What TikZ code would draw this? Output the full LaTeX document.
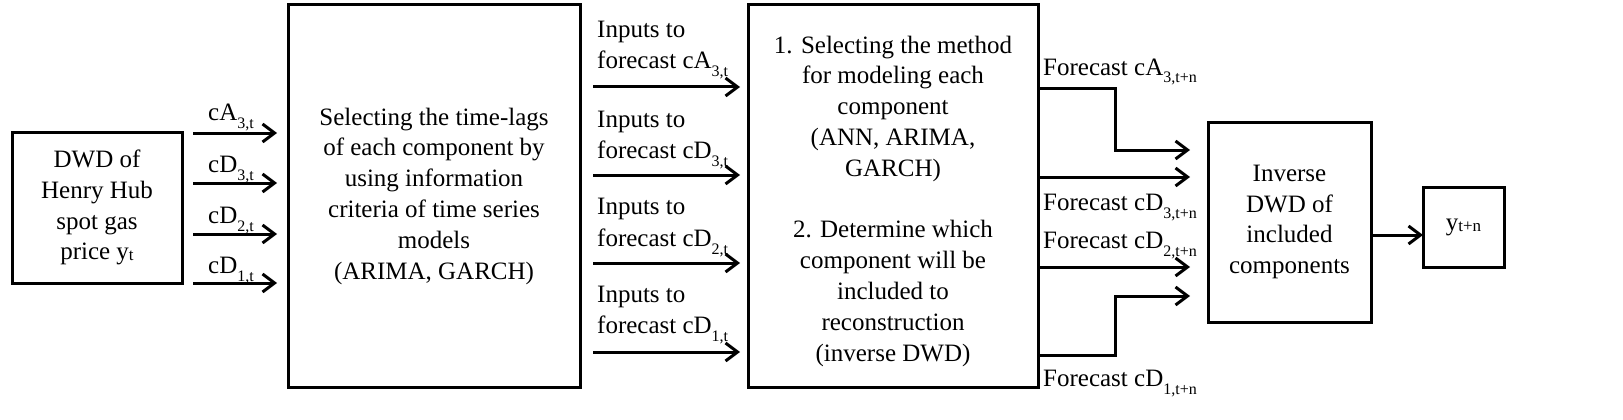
\documentclass[tikz,border=0pt]{standalone}
\usepackage{fontspec}
\setmainfont{Liberation Serif}
\usetikzlibrary{arrows.meta}
\newcommand\sbs[1]{\raisebox{-8pt}{\fontsize{16}{16}\selectfont #1}}
\newcommand\sml[1]{\raisebox{-1pt}{\fontsize{17}{17}\selectfont #1}}
\begin{document}
\begin{tikzpicture}[x=1pt,y=-1pt,
  font=\fontsize{25}{30.8}\selectfont,
  box/.style={draw, line width=3pt, align=center, inner sep=0pt, outer sep=0pt},
  arr/.style={line width=3pt, -{Straight Barb[length=12pt,width=18pt]}},
  lbl/.style={inner sep=0pt, anchor=base west}]
\useasboundingbox (0,0) rectangle (1623,420);

% boxes
\node[box, minimum width=170pt, minimum height=151pt] (b1) at (97,207.5)
  {DWD of\\Henry Hub\\spot gas\\price y\sml{t}};
\node[box, minimum width=292pt, minimum height=382pt] (b2) at (434,196)
  {Selecting the time-lags\\of each component by\\using information\\criteria of time series\\models\\(ARIMA, GARCH)};
\node[box, minimum width=290pt, minimum height=382pt] (b3) at (893,196) {};
\node[align=center, inner sep=0pt] (b3t) at (893,201)
  {1. Selecting the method\\for modeling each\\component\\(ANN, ARIMA,\\GARCH)\\[30.8pt]2. Determine which\\component will be\\included to\\reconstruction\\(inverse DWD)};
\node[box, minimum width=163pt, minimum height=200pt] (b4) at (1289.5,222)
  {Inverse\\DWD of\\included\\components};
\node[box, minimum width=81pt, minimum height=80pt] (b5) at (1463.5,227)
  {y\sml{t+n}};

% left arrows
\coordinate (l1) at (0,133);
\coordinate (l2) at (0,183);
\coordinate (l3) at (0,234);
\coordinate (l4) at (0,283);
\foreach \c in {l1,l2,l3,l4}
  \draw[arr, shorten <=11pt, shorten >=11pt] (b1.east |- \c) -- (b2.west |- \c);
\node[lbl] (t1) at (208,121) {cA\sbs{3,t}};
\node[lbl] (t2) at (208,172) {cD\sbs{3,t}};
\node[lbl] (t3) at (208,223) {cD\sbs{2,t}};
\node[lbl] (t4) at (208,273) {cD\sbs{1,t}};

% middle arrows
\coordinate (m1) at (0,87);
\coordinate (m2) at (0,175);
\coordinate (m3) at (0,263);
\coordinate (m4) at (0,352);
\foreach \c in {m1,m2,m3,m4}
  \draw[arr, shorten <=13pt, shorten >=8pt] (b2.east |- \c) -- (b3.west |- \c);
\node[lbl] (i1a) at (597,38) {Inputs to};
\node[lbl] (i1b) at (597,69) {forecast cA\sbs{3,t}};
\node[lbl] (i2a) at (597,127) {Inputs to};
\node[lbl] (i2b) at (597,158) {forecast cD\sbs{3,t}};
\node[lbl] (i3a) at (597,214) {Inputs to};
\node[lbl] (i3b) at (597,246) {forecast cD\sbs{2,t}};
\node[lbl] (i4a) at (597,302) {Inputs to};
\node[lbl] (i4b) at (597,333) {forecast cD\sbs{1,t}};

% right connectors
\coordinate (k1) at (1115,89);
\coordinate (k2) at (1115,150);
\coordinate (k3) at (0,177);
\coordinate (k4) at (0,267);
\coordinate (k5) at (1115,355);
\coordinate (k6) at (1115,296);
\draw[arr, shorten >=18pt] (b3.east |- k1) -- (k1) -- (k2) -- (b4.west |- k2);
\draw[arr, shorten >=18pt] (b3.east |- k3) -- (b4.west |- k3);
\draw[arr, shorten >=18pt] (b3.east |- k4) -- (b4.west |- k4);
\draw[arr, shorten >=18pt] (b3.east |- k5) -- (k5) -- (k6) -- (b4.west |- k6);
\node[lbl] (f1) at (1043,75) {Forecast cA\sbs{3,t+n}};
\node[lbl] (f2) at (1043,210) {Forecast cD\sbs{3,t+n}};
\node[lbl] (f3) at (1043,248) {Forecast cD\sbs{2,t+n}};
\node[lbl] (f4) at (1043,386) {Forecast cD\sbs{1,t+n}};

% output arrow
\coordinate (o) at (0,235);
\draw[arr] (b4.east |- o) -- (b5.west |- o);
\end{tikzpicture}
\end{document}
